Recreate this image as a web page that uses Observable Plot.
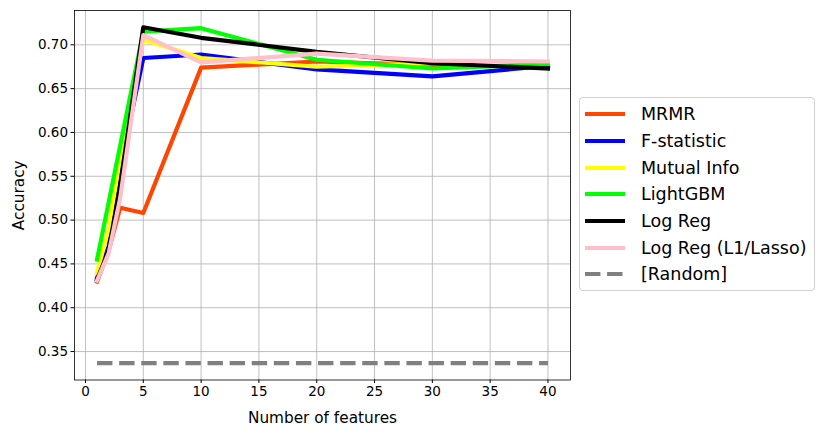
<!DOCTYPE html>
<html>
<head>
<meta charset="utf-8">
<script src="https://cdn.jsdelivr.net/npm/d3@7"></script>
<script src="https://cdn.jsdelivr.net/npm/@observablehq/plot@0.6"></script>
<style>
  html, body { margin: 0; padding: 0; background: #fff; }
  #wrap { position: relative; width: 824px; height: 436px; font-family: "DejaVu Sans", sans-serif; }
  #chart { position: absolute; left: 0; top: 0; }
  #legend { position: absolute; left: 579px; top: 97px; width: 236px; height: 194px;
            border: 1px solid #d0d0d0; border-radius: 4px; box-sizing: border-box; padding-top: 3px; }
  .item { display: flex; align-items: center; height: 26.7px; font-size: 17.5px; color: #000; }
  .item svg { margin-left: 3px; margin-right: 14px; }
</style>
</head>
<body>
<div id="wrap"><div id="chart"></div><div id="legend"></div></div>
<script>
const features = [1, 2, 3, 5, 10, 20, 30, 40];
const mrmr    = [0.430, 0.465, 0.514, 0.508, 0.674, 0.681, 0.677, 0.677];
const fstat   = [0.434, 0.470, 0.560, 0.685, 0.689, 0.672, 0.664, 0.676];
const mutual  = [0.440, 0.490, 0.570, 0.706, 0.685, 0.675, 0.679, 0.680];
const lgbm    = [0.455, 0.520, 0.585, 0.715, 0.719, 0.683, 0.673, 0.678];
const logreg  = [0.432, 0.465, 0.540, 0.720, 0.708, 0.692, 0.679, 0.673];
const lasso   = [0.431, 0.462, 0.525, 0.711, 0.680, 0.690, 0.682, 0.681];
const random  = [0.3367, 0.3367, 0.3367, 0.3367, 0.3367, 0.3367, 0.3367, 0.3367];

const seriesNames = ["MRMR", "F-statistic", "Mutual Info", "LightGBM", "Log Reg", "Log Reg (L1/Lasso)", "[Random]"];
const seriesValues = [mrmr, fstat, mutual, lgbm, logreg, lasso, random];
const seriesColors = ["#ff4500", "#0000ff", "#ffff00", "#00ff00", "#000000", "#ffc0cb", "#808080"];
const xTicks = [0, 5, 10, 15, 20, 25, 30, 35, 40];
const yTicks = [0.35, 0.40, 0.45, 0.50, 0.55, 0.60, 0.65, 0.70];

const rows = [];
seriesNames.forEach((name, i) => {
  features.forEach((f, j) => rows.push({series: name, x: f, y: seriesValues[i][j]}));
});

const xDomain = [1 - 0.05 * 39, 40 + 0.05 * 39];
const allY = seriesValues.flat();
const yMin = d3.min(allY), yMax = d3.max(allY), yr = yMax - yMin;
const yDomain = [yMin - 0.05 * yr, yMax + 0.05 * yr];

const LW = 4.17;
const DASH = "15.4,6.7";

const marks = [
  Plot.gridX(xTicks, {stroke: "#b0b0b0", strokeOpacity: 1, strokeWidth: 0.8}),
  Plot.gridY(yTicks, {stroke: "#b0b0b0", strokeOpacity: 1, strokeWidth: 0.8}),
];
seriesNames.forEach((name, i) => {
  const dashed = name === "[Random]";
  marks.push(Plot.line(rows.filter(d => d.series === name), {
    x: "x", y: "y", stroke: seriesColors[i], strokeWidth: LW,
    strokeLinejoin: "round", strokeLinecap: dashed ? "butt" : "square",
    strokeDasharray: dashed ? DASH : null
  }));
});
marks.push(
  Plot.frame({stroke: "#000", strokeWidth: 0.8}),
  Plot.axisX(xTicks, {tickSize: 3.5, tickPadding: 3, fontSize: 13.5, label: null, stroke: "#000"}),
  Plot.axisY(yTicks, {tickSize: 3.5, tickPadding: 3, fontSize: 13.5, label: null, tickFormat: d3.format(".2f"), stroke: "#000"}),
  Plot.text(["Number of features"], {frameAnchor: "bottom", lineAnchor: "middle", textAnchor: "middle", dy: 38, fontSize: 15.3, fill: "#000"}),
  Plot.text(["Accuracy"], {frameAnchor: "left", textAnchor: "middle", lineAnchor: "middle", rotate: -90, dx: -55, fontSize: 15.3, fill: "#000"})
);

const chart = Plot.plot({
  width: 575, height: 436,
  marginLeft: 74, marginRight: 5, marginTop: 10, marginBottom: 56.5,
  style: {fontFamily: "DejaVu Sans, sans-serif", color: "#000", background: "#fff", overflow: "visible"},
  x: {domain: xDomain, axis: null},
  y: {domain: yDomain, axis: null},
  marks
});
document.getElementById("chart").appendChild(chart);

const legend = document.getElementById("legend");
seriesNames.forEach((name, i) => {
  const dashed = name === "[Random]";
  const item = document.createElement("div");
  item.className = "item";
  item.innerHTML = `<svg width="44" height="10"><line x1="2" x2="42" y1="5" y2="5" stroke="${seriesColors[i]}" stroke-width="${LW}" ${dashed ? `stroke-dasharray="${DASH}"` : ''}/></svg><span>${name}</span>`;
  legend.appendChild(item);
});
</script>
</body>
</html>
